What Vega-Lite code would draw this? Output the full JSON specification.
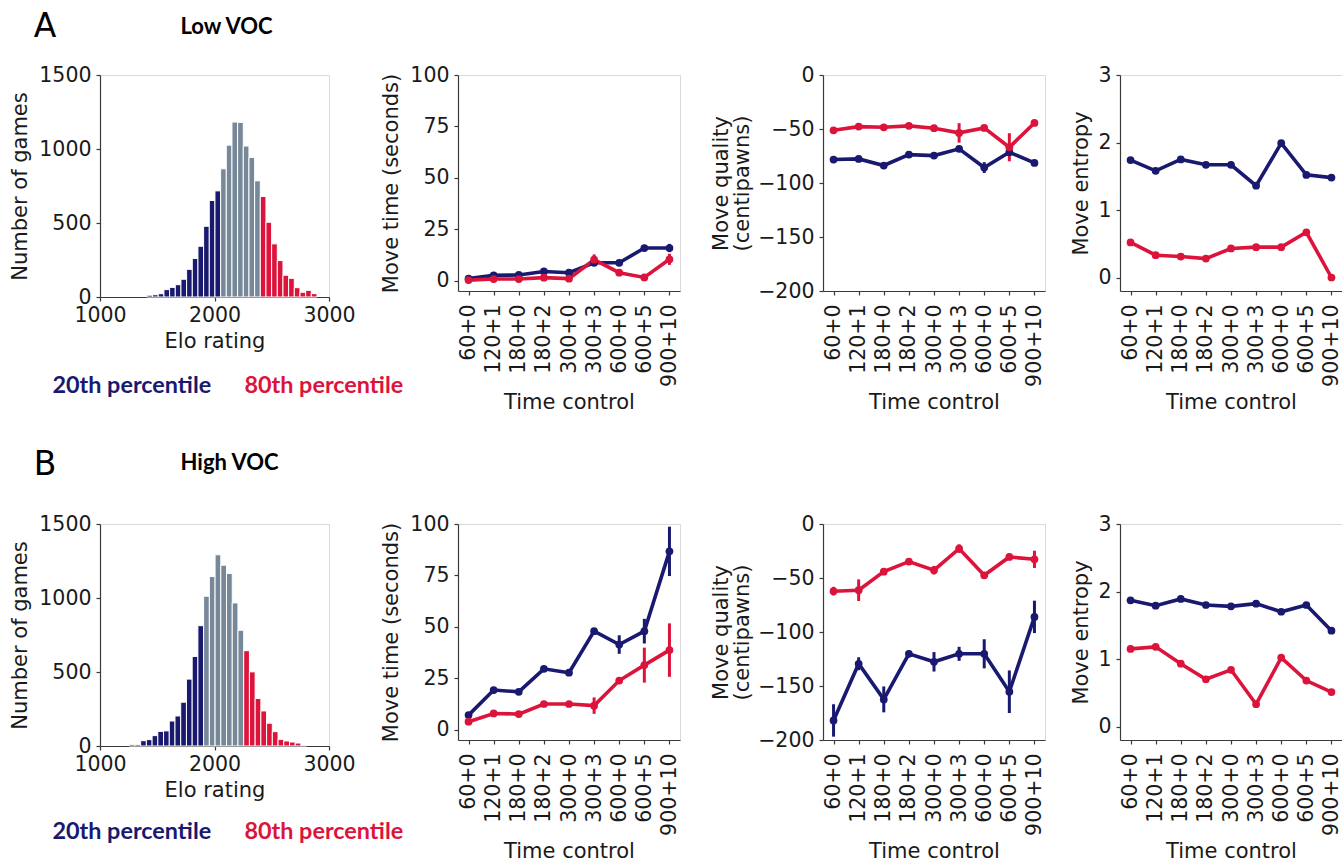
{
  "$schema": "https://vega.github.io/schema/vega-lite/v6.json",
  "background": "white",
  "padding": {"left": 9, "top": 10, "right": 0, "bottom": 0},
  "config": {
    "font": "DejaVu Sans",
    "view": {"stroke": "#d9d9d9", "strokeWidth": 1},
    "axis": {"grid": false, "labelFlush": false, "domainColor": "#3a3a3a", "domainWidth": 1.2, "tickColor": "#3a3a3a", "tickWidth": 1.2, "tickSize": 4, "labelFont": "DejaVu Sans", "labelFontSize": 20.5, "labelColor": "#1a1a1a", "titleFont": "DejaVu Sans", "titleFontSize": 21, "titleFontWeight": "normal", "titleColor": "#1a1a1a", "labelPadding": 5, "titlePadding": 8, "minExtent": 0, "titleLineHeight": 21},
    "axisX": {"labelPadding": 4, "titlePadding": 5},
    "legend": {"labelLimit": 400}
  },
  "datasets": {
    "histA": [
      {"elo_lo": 1410, "elo_hi": 1459.5, "count": 12, "band": "20th percentile"},
      {"elo_lo": 1459.5, "elo_hi": 1509, "count": 15, "band": "20th percentile"},
      {"elo_lo": 1509, "elo_hi": 1558.5, "count": 22, "band": "20th percentile"},
      {"elo_lo": 1558.5, "elo_hi": 1608, "count": 50, "band": "20th percentile"},
      {"elo_lo": 1608, "elo_hi": 1657.5, "count": 65, "band": "20th percentile"},
      {"elo_lo": 1657.5, "elo_hi": 1707, "count": 83, "band": "20th percentile"},
      {"elo_lo": 1707, "elo_hi": 1756.5, "count": 120, "band": "20th percentile"},
      {"elo_lo": 1756.5, "elo_hi": 1806, "count": 187, "band": "20th percentile"},
      {"elo_lo": 1806, "elo_hi": 1855.5, "count": 260, "band": "20th percentile"},
      {"elo_lo": 1855.5, "elo_hi": 1905, "count": 343, "band": "20th percentile"},
      {"elo_lo": 1905, "elo_hi": 1954.5, "count": 478, "band": "20th percentile"},
      {"elo_lo": 1954.5, "elo_hi": 2004, "count": 652, "band": "20th percentile"},
      {"elo_lo": 2004, "elo_hi": 2053.5, "count": 717, "band": "20th percentile"},
      {"elo_lo": 2053.5, "elo_hi": 2103, "count": 866, "band": "middle"},
      {"elo_lo": 2103, "elo_hi": 2152.5, "count": 1026, "band": "middle"},
      {"elo_lo": 2152.5, "elo_hi": 2202, "count": 1182, "band": "middle"},
      {"elo_lo": 2202, "elo_hi": 2251.5, "count": 1180, "band": "middle"},
      {"elo_lo": 2251.5, "elo_hi": 2301, "count": 1020, "band": "middle"},
      {"elo_lo": 2301, "elo_hi": 2350.5, "count": 943, "band": "middle"},
      {"elo_lo": 2350.5, "elo_hi": 2400, "count": 785, "band": "middle"},
      {"elo_lo": 2400, "elo_hi": 2449.5, "count": 679, "band": "80th percentile"},
      {"elo_lo": 2449.5, "elo_hi": 2499, "count": 505, "band": "80th percentile"},
      {"elo_lo": 2499, "elo_hi": 2548.5, "count": 359, "band": "80th percentile"},
      {"elo_lo": 2548.5, "elo_hi": 2598, "count": 246, "band": "80th percentile"},
      {"elo_lo": 2598, "elo_hi": 2647.5, "count": 147, "band": "80th percentile"},
      {"elo_lo": 2647.5, "elo_hi": 2697, "count": 126, "band": "80th percentile"},
      {"elo_lo": 2697, "elo_hi": 2746.5, "count": 63, "band": "80th percentile"},
      {"elo_lo": 2746.5, "elo_hi": 2796, "count": 32, "band": "80th percentile"},
      {"elo_lo": 2796, "elo_hi": 2845.5, "count": 45, "band": "80th percentile"},
      {"elo_lo": 2845.5, "elo_hi": 2895, "count": 23, "band": "80th percentile"}
    ],
    "histB": [
      {"elo_lo": 1255, "elo_hi": 1305, "count": 9, "band": "20th percentile"},
      {"elo_lo": 1305, "elo_hi": 1355, "count": 9, "band": "20th percentile"},
      {"elo_lo": 1355, "elo_hi": 1405, "count": 36, "band": "20th percentile"},
      {"elo_lo": 1405, "elo_hi": 1455, "count": 43, "band": "20th percentile"},
      {"elo_lo": 1455, "elo_hi": 1505, "count": 70, "band": "20th percentile"},
      {"elo_lo": 1505, "elo_hi": 1555, "count": 99, "band": "20th percentile"},
      {"elo_lo": 1555, "elo_hi": 1605, "count": 102, "band": "20th percentile"},
      {"elo_lo": 1605, "elo_hi": 1655, "count": 169, "band": "20th percentile"},
      {"elo_lo": 1655, "elo_hi": 1705, "count": 203, "band": "20th percentile"},
      {"elo_lo": 1705, "elo_hi": 1755, "count": 296, "band": "20th percentile"},
      {"elo_lo": 1755, "elo_hi": 1805, "count": 452, "band": "20th percentile"},
      {"elo_lo": 1805, "elo_hi": 1855, "count": 605, "band": "20th percentile"},
      {"elo_lo": 1855, "elo_hi": 1905, "count": 813, "band": "20th percentile"},
      {"elo_lo": 1905, "elo_hi": 1955, "count": 1012, "band": "middle"},
      {"elo_lo": 1955, "elo_hi": 2005, "count": 1145, "band": "middle"},
      {"elo_lo": 2005, "elo_hi": 2055, "count": 1292, "band": "middle"},
      {"elo_lo": 2055, "elo_hi": 2105, "count": 1222, "band": "middle"},
      {"elo_lo": 2105, "elo_hi": 2155, "count": 1166, "band": "middle"},
      {"elo_lo": 2155, "elo_hi": 2205, "count": 967, "band": "middle"},
      {"elo_lo": 2205, "elo_hi": 2255, "count": 782, "band": "middle"},
      {"elo_lo": 2255, "elo_hi": 2305, "count": 644, "band": "80th percentile"},
      {"elo_lo": 2305, "elo_hi": 2355, "count": 501, "band": "80th percentile"},
      {"elo_lo": 2355, "elo_hi": 2405, "count": 321, "band": "80th percentile"},
      {"elo_lo": 2405, "elo_hi": 2455, "count": 237, "band": "80th percentile"},
      {"elo_lo": 2455, "elo_hi": 2505, "count": 154, "band": "80th percentile"},
      {"elo_lo": 2505, "elo_hi": 2555, "count": 97, "band": "80th percentile"},
      {"elo_lo": 2555, "elo_hi": 2605, "count": 45, "band": "80th percentile"},
      {"elo_lo": 2605, "elo_hi": 2655, "count": 34, "band": "80th percentile"},
      {"elo_lo": 2655, "elo_hi": 2705, "count": 27, "band": "80th percentile"},
      {"elo_lo": 2705, "elo_hi": 2755, "count": 20, "band": "80th percentile"},
      {"elo_lo": 2755, "elo_hi": 2805, "count": 5, "band": "80th percentile"}
    ],
    "lines": [
      {"voc": "Low", "metric": "time", "group": "20th percentile", "tc": "60+0", "mean": 1.0, "lo": 0.5, "hi": 1.5},
      {"voc": "Low", "metric": "time", "group": "20th percentile", "tc": "120+1", "mean": 2.6, "lo": 2.1, "hi": 3.1},
      {"voc": "Low", "metric": "time", "group": "20th percentile", "tc": "180+0", "mean": 2.8, "lo": 2.3, "hi": 3.3},
      {"voc": "Low", "metric": "time", "group": "20th percentile", "tc": "180+2", "mean": 4.5, "lo": 3.9, "hi": 5.1},
      {"voc": "Low", "metric": "time", "group": "20th percentile", "tc": "300+0", "mean": 3.9, "lo": 3.3, "hi": 4.5},
      {"voc": "Low", "metric": "time", "group": "20th percentile", "tc": "300+3", "mean": 8.7, "lo": 7.7, "hi": 9.7},
      {"voc": "Low", "metric": "time", "group": "20th percentile", "tc": "600+0", "mean": 8.7, "lo": 7.7, "hi": 9.7},
      {"voc": "Low", "metric": "time", "group": "20th percentile", "tc": "600+5", "mean": 15.9, "lo": 14.4, "hi": 17.4},
      {"voc": "Low", "metric": "time", "group": "20th percentile", "tc": "900+10", "mean": 15.9, "lo": 13.9, "hi": 17.9},
      {"voc": "Low", "metric": "time", "group": "80th percentile", "tc": "60+0", "mean": 0.3, "lo": 0.1, "hi": 0.5},
      {"voc": "Low", "metric": "time", "group": "80th percentile", "tc": "120+1", "mean": 0.8, "lo": 0.5, "hi": 1.1},
      {"voc": "Low", "metric": "time", "group": "80th percentile", "tc": "180+0", "mean": 0.8, "lo": 0.5, "hi": 1.1},
      {"voc": "Low", "metric": "time", "group": "80th percentile", "tc": "180+2", "mean": 1.5, "lo": 1.1, "hi": 1.9},
      {"voc": "Low", "metric": "time", "group": "80th percentile", "tc": "300+0", "mean": 1.0, "lo": 0.6, "hi": 1.4},
      {"voc": "Low", "metric": "time", "group": "80th percentile", "tc": "300+3", "mean": 10.2, "lo": 7.6, "hi": 12.8},
      {"voc": "Low", "metric": "time", "group": "80th percentile", "tc": "600+0", "mean": 3.9, "lo": 3.1, "hi": 4.7},
      {"voc": "Low", "metric": "time", "group": "80th percentile", "tc": "600+5", "mean": 1.6, "lo": 0.8, "hi": 2.4},
      {"voc": "Low", "metric": "time", "group": "80th percentile", "tc": "900+10", "mean": 10.4, "lo": 7.7, "hi": 13.1},
      {"voc": "Low", "metric": "quality", "group": "20th percentile", "tc": "60+0", "mean": -78.3, "lo": -80.3, "hi": -76.3},
      {"voc": "Low", "metric": "quality", "group": "20th percentile", "tc": "120+1", "mean": -77.7, "lo": -79.7, "hi": -75.7},
      {"voc": "Low", "metric": "quality", "group": "20th percentile", "tc": "180+0", "mean": -83.8, "lo": -85.8, "hi": -81.8},
      {"voc": "Low", "metric": "quality", "group": "20th percentile", "tc": "180+2", "mean": -73.7, "lo": -75.7, "hi": -71.7},
      {"voc": "Low", "metric": "quality", "group": "20th percentile", "tc": "300+0", "mean": -74.6, "lo": -76.6, "hi": -72.6},
      {"voc": "Low", "metric": "quality", "group": "20th percentile", "tc": "300+3", "mean": -68.4, "lo": -70.4, "hi": -66.4},
      {"voc": "Low", "metric": "quality", "group": "20th percentile", "tc": "600+0", "mean": -85.7, "lo": -90.7, "hi": -80.7},
      {"voc": "Low", "metric": "quality", "group": "20th percentile", "tc": "600+5", "mean": -71.5, "lo": -74.5, "hi": -68.5},
      {"voc": "Low", "metric": "quality", "group": "20th percentile", "tc": "900+10", "mean": -81.4, "lo": -83.9, "hi": -78.9},
      {"voc": "Low", "metric": "quality", "group": "80th percentile", "tc": "60+0", "mean": -51.2, "lo": -52.7, "hi": -49.7},
      {"voc": "Low", "metric": "quality", "group": "80th percentile", "tc": "120+1", "mean": -47.8, "lo": -49.3, "hi": -46.3},
      {"voc": "Low", "metric": "quality", "group": "80th percentile", "tc": "180+0", "mean": -48.4, "lo": -49.9, "hi": -46.9},
      {"voc": "Low", "metric": "quality", "group": "80th percentile", "tc": "180+2", "mean": -47.1, "lo": -48.6, "hi": -45.6},
      {"voc": "Low", "metric": "quality", "group": "80th percentile", "tc": "300+0", "mean": -49.3, "lo": -50.8, "hi": -47.8},
      {"voc": "Low", "metric": "quality", "group": "80th percentile", "tc": "300+3", "mean": -53.6, "lo": -62.6, "hi": -44.6},
      {"voc": "Low", "metric": "quality", "group": "80th percentile", "tc": "600+0", "mean": -49.0, "lo": -51.0, "hi": -47.0},
      {"voc": "Low", "metric": "quality", "group": "80th percentile", "tc": "600+5", "mean": -66.9, "lo": -79.9, "hi": -53.9},
      {"voc": "Low", "metric": "quality", "group": "80th percentile", "tc": "900+10", "mean": -44.4, "lo": -46.4, "hi": -42.4},
      {"voc": "Low", "metric": "entropy", "group": "20th percentile", "tc": "60+0", "mean": 1.74, "lo": 1.72, "hi": 1.76},
      {"voc": "Low", "metric": "entropy", "group": "20th percentile", "tc": "120+1", "mean": 1.58, "lo": 1.56, "hi": 1.60},
      {"voc": "Low", "metric": "entropy", "group": "20th percentile", "tc": "180+0", "mean": 1.75, "lo": 1.73, "hi": 1.77},
      {"voc": "Low", "metric": "entropy", "group": "20th percentile", "tc": "180+2", "mean": 1.67, "lo": 1.65, "hi": 1.69},
      {"voc": "Low", "metric": "entropy", "group": "20th percentile", "tc": "300+0", "mean": 1.67, "lo": 1.65, "hi": 1.69},
      {"voc": "Low", "metric": "entropy", "group": "20th percentile", "tc": "300+3", "mean": 1.36, "lo": 1.34, "hi": 1.38},
      {"voc": "Low", "metric": "entropy", "group": "20th percentile", "tc": "600+0", "mean": 1.99, "lo": 1.97, "hi": 2.01},
      {"voc": "Low", "metric": "entropy", "group": "20th percentile", "tc": "600+5", "mean": 1.52, "lo": 1.50, "hi": 1.54},
      {"voc": "Low", "metric": "entropy", "group": "20th percentile", "tc": "900+10", "mean": 1.48, "lo": 1.46, "hi": 1.50},
      {"voc": "Low", "metric": "entropy", "group": "80th percentile", "tc": "60+0", "mean": 0.52, "lo": 0.50, "hi": 0.54},
      {"voc": "Low", "metric": "entropy", "group": "80th percentile", "tc": "120+1", "mean": 0.33, "lo": 0.31, "hi": 0.35},
      {"voc": "Low", "metric": "entropy", "group": "80th percentile", "tc": "180+0", "mean": 0.31, "lo": 0.29, "hi": 0.33},
      {"voc": "Low", "metric": "entropy", "group": "80th percentile", "tc": "180+2", "mean": 0.28, "lo": 0.26, "hi": 0.30},
      {"voc": "Low", "metric": "entropy", "group": "80th percentile", "tc": "300+0", "mean": 0.43, "lo": 0.41, "hi": 0.45},
      {"voc": "Low", "metric": "entropy", "group": "80th percentile", "tc": "300+3", "mean": 0.45, "lo": 0.43, "hi": 0.47},
      {"voc": "Low", "metric": "entropy", "group": "80th percentile", "tc": "600+0", "mean": 0.45, "lo": 0.43, "hi": 0.47},
      {"voc": "Low", "metric": "entropy", "group": "80th percentile", "tc": "600+5", "mean": 0.67, "lo": 0.65, "hi": 0.69},
      {"voc": "Low", "metric": "entropy", "group": "80th percentile", "tc": "900+10", "mean": 0.0, "lo": -0.02, "hi": 0.02},
      {"voc": "High", "metric": "time", "group": "20th percentile", "tc": "60+0", "mean": 7.1, "lo": 6.3, "hi": 7.9},
      {"voc": "High", "metric": "time", "group": "20th percentile", "tc": "120+1", "mean": 19.3, "lo": 18.3, "hi": 20.3},
      {"voc": "High", "metric": "time", "group": "20th percentile", "tc": "180+0", "mean": 18.4, "lo": 17.4, "hi": 19.4},
      {"voc": "High", "metric": "time", "group": "20th percentile", "tc": "180+2", "mean": 29.6, "lo": 28.4, "hi": 30.8},
      {"voc": "High", "metric": "time", "group": "20th percentile", "tc": "300+0", "mean": 27.7, "lo": 26.5, "hi": 28.9},
      {"voc": "High", "metric": "time", "group": "20th percentile", "tc": "300+3", "mean": 47.9, "lo": 46.4, "hi": 49.4},
      {"voc": "High", "metric": "time", "group": "20th percentile", "tc": "600+0", "mean": 41.4, "lo": 36.9, "hi": 45.9},
      {"voc": "High", "metric": "time", "group": "20th percentile", "tc": "600+5", "mean": 47.9, "lo": 41.9, "hi": 53.9},
      {"voc": "High", "metric": "time", "group": "20th percentile", "tc": "900+10", "mean": 86.7, "lo": 74.7, "hi": 98.7},
      {"voc": "High", "metric": "time", "group": "80th percentile", "tc": "60+0", "mean": 3.9, "lo": 3.4, "hi": 4.4},
      {"voc": "High", "metric": "time", "group": "80th percentile", "tc": "120+1", "mean": 7.9, "lo": 7.1, "hi": 8.7},
      {"voc": "High", "metric": "time", "group": "80th percentile", "tc": "180+0", "mean": 7.6, "lo": 6.8, "hi": 8.4},
      {"voc": "High", "metric": "time", "group": "80th percentile", "tc": "180+2", "mean": 12.5, "lo": 11.5, "hi": 13.5},
      {"voc": "High", "metric": "time", "group": "80th percentile", "tc": "300+0", "mean": 12.5, "lo": 11.5, "hi": 13.5},
      {"voc": "High", "metric": "time", "group": "80th percentile", "tc": "300+3", "mean": 11.7, "lo": 7.7, "hi": 15.7},
      {"voc": "High", "metric": "time", "group": "80th percentile", "tc": "600+0", "mean": 23.9, "lo": 22.4, "hi": 25.4},
      {"voc": "High", "metric": "time", "group": "80th percentile", "tc": "600+5", "mean": 31.4, "lo": 22.9, "hi": 39.9},
      {"voc": "High", "metric": "time", "group": "80th percentile", "tc": "900+10", "mean": 38.7, "lo": 25.7, "hi": 51.7},
      {"voc": "High", "metric": "quality", "group": "20th percentile", "tc": "60+0", "mean": -181.9, "lo": -196.9, "hi": -166.9},
      {"voc": "High", "metric": "quality", "group": "20th percentile", "tc": "120+1", "mean": -129.4, "lo": -135.4, "hi": -123.4},
      {"voc": "High", "metric": "quality", "group": "20th percentile", "tc": "180+0", "mean": -162.4, "lo": -174.4, "hi": -150.4},
      {"voc": "High", "metric": "quality", "group": "20th percentile", "tc": "180+2", "mean": -120.2, "lo": -123.2, "hi": -117.2},
      {"voc": "High", "metric": "quality", "group": "20th percentile", "tc": "300+0", "mean": -127.6, "lo": -136.6, "hi": -118.6},
      {"voc": "High", "metric": "quality", "group": "20th percentile", "tc": "300+3", "mean": -120.2, "lo": -126.7, "hi": -113.7},
      {"voc": "High", "metric": "quality", "group": "20th percentile", "tc": "600+0", "mean": -120.2, "lo": -133.7, "hi": -106.7},
      {"voc": "High", "metric": "quality", "group": "20th percentile", "tc": "600+5", "mean": -155.3, "lo": -175.0, "hi": -135.6},
      {"voc": "High", "metric": "quality", "group": "20th percentile", "tc": "900+10", "mean": -86.0, "lo": -101.0, "hi": -71.0},
      {"voc": "High", "metric": "quality", "group": "80th percentile", "tc": "60+0", "mean": -62.2, "lo": -66.2, "hi": -58.2},
      {"voc": "High", "metric": "quality", "group": "80th percentile", "tc": "120+1", "mean": -61.3, "lo": -71.3, "hi": -51.3},
      {"voc": "High", "metric": "quality", "group": "80th percentile", "tc": "180+0", "mean": -44.1, "lo": -46.1, "hi": -42.1},
      {"voc": "High", "metric": "quality", "group": "80th percentile", "tc": "180+2", "mean": -34.8, "lo": -36.8, "hi": -32.8},
      {"voc": "High", "metric": "quality", "group": "80th percentile", "tc": "300+0", "mean": -42.8, "lo": -46.8, "hi": -38.8},
      {"voc": "High", "metric": "quality", "group": "80th percentile", "tc": "300+3", "mean": -22.8, "lo": -26.8, "hi": -18.8},
      {"voc": "High", "metric": "quality", "group": "80th percentile", "tc": "600+0", "mean": -47.5, "lo": -49.5, "hi": -45.5},
      {"voc": "High", "metric": "quality", "group": "80th percentile", "tc": "600+5", "mean": -30.5, "lo": -33.5, "hi": -27.5},
      {"voc": "High", "metric": "quality", "group": "80th percentile", "tc": "900+10", "mean": -32.7, "lo": -40.7, "hi": -24.7},
      {"voc": "High", "metric": "entropy", "group": "20th percentile", "tc": "60+0", "mean": 1.87, "lo": 1.85, "hi": 1.89},
      {"voc": "High", "metric": "entropy", "group": "20th percentile", "tc": "120+1", "mean": 1.79, "lo": 1.77, "hi": 1.81},
      {"voc": "High", "metric": "entropy", "group": "20th percentile", "tc": "180+0", "mean": 1.89, "lo": 1.87, "hi": 1.91},
      {"voc": "High", "metric": "entropy", "group": "20th percentile", "tc": "180+2", "mean": 1.80, "lo": 1.78, "hi": 1.82},
      {"voc": "High", "metric": "entropy", "group": "20th percentile", "tc": "300+0", "mean": 1.78, "lo": 1.76, "hi": 1.80},
      {"voc": "High", "metric": "entropy", "group": "20th percentile", "tc": "300+3", "mean": 1.82, "lo": 1.80, "hi": 1.84},
      {"voc": "High", "metric": "entropy", "group": "20th percentile", "tc": "600+0", "mean": 1.70, "lo": 1.68, "hi": 1.72},
      {"voc": "High", "metric": "entropy", "group": "20th percentile", "tc": "600+5", "mean": 1.80, "lo": 1.78, "hi": 1.82},
      {"voc": "High", "metric": "entropy", "group": "20th percentile", "tc": "900+10", "mean": 1.42, "lo": 1.40, "hi": 1.44},
      {"voc": "High", "metric": "entropy", "group": "80th percentile", "tc": "60+0", "mean": 1.15, "lo": 1.13, "hi": 1.17},
      {"voc": "High", "metric": "entropy", "group": "80th percentile", "tc": "120+1", "mean": 1.18, "lo": 1.16, "hi": 1.20},
      {"voc": "High", "metric": "entropy", "group": "80th percentile", "tc": "180+0", "mean": 0.93, "lo": 0.91, "hi": 0.95},
      {"voc": "High", "metric": "entropy", "group": "80th percentile", "tc": "180+2", "mean": 0.70, "lo": 0.68, "hi": 0.72},
      {"voc": "High", "metric": "entropy", "group": "80th percentile", "tc": "300+0", "mean": 0.84, "lo": 0.82, "hi": 0.86},
      {"voc": "High", "metric": "entropy", "group": "80th percentile", "tc": "300+3", "mean": 0.33, "lo": 0.31, "hi": 0.35},
      {"voc": "High", "metric": "entropy", "group": "80th percentile", "tc": "600+0", "mean": 1.02, "lo": 1.00, "hi": 1.04},
      {"voc": "High", "metric": "entropy", "group": "80th percentile", "tc": "600+5", "mean": 0.68, "lo": 0.66, "hi": 0.70},
      {"voc": "High", "metric": "entropy", "group": "80th percentile", "tc": "900+10", "mean": 0.51, "lo": 0.49, "hi": 0.53}
    ]
  },
  "bounds": "flush",
  "spacing": 449,
  "resolve": {"legend": {"color": "independent"}},
  "vconcat": [
    {
      "title": {"text": "A", "anchor": "start", "frame": "bounds", "fontSize": 33, "font": "DejaVu Sans", "fontWeight": "normal", "color": "black", "dx": 24.5, "offset": -28},
      "bounds": "flush",
      "spacing": 129,
      "resolve": {"legend": {"color": "independent"}},
      "hconcat": [
        {
          "width": 229, "height": 222,
          "title": {"text": "Low VOC", "anchor": "start", "frame": "group", "dx": 80.5, "font": "Lato", "fontWeight": "bold", "fontSize": 22, "color": "black", "offset": 26},
          "data": {"name": "histA"},
          "mark": {"type": "bar", "stroke": "white", "strokeWidth": 1},
          "encoding": {
            "x": {"field": "elo_lo", "type": "quantitative", "scale": {"domain": [1000, 3000], "nice": false}, "axis": {"title": "Elo rating", "values": [1000, 2000, 3000], "format": "d"}},
            "x2": {"field": "elo_hi"},
            "y": {"field": "count", "type": "quantitative", "scale": {"domain": [0, 1500], "nice": false}, "axis": {"title": "Number of games", "values": [0, 500, 1000, 1500], "format": "d", "titlePadding": 8}},
            "y2": {"datum": 0},
            "color": {"field": "band", "type": "nominal", "scale": {"domain": ["20th percentile", "middle", "80th percentile"], "range": ["#191970", "#778899", "#dc143c"]},
              "legend": {"values": ["20th percentile", "80th percentile"], "orient": "none", "legendX": -71, "legendY": 299, "direction": "horizontal", "title": null, "symbolSize": 0, "symbolStrokeWidth": 0, "symbolOpacity": 0, "labelFont": "Lato", "labelFontSize": 23.4, "labelFontWeight": "bold", "labelOffset": 0, "columnPadding": 9, "labelLimit": 400,
                "labelColor": {"expr": "datum.value === '20th percentile' ? '#191970' : '#dc143c'"}}}
          }
        },
        {
          "bounds": "flush",
          "spacing": 143,
          "resolve": {"legend": {"color": "independent"}},
          "hconcat": [
            {
              "width": 222, "height": 216,
              "data": {"name": "lines"},
              "transform": [{"filter": "datum.voc === 'Low' && datum.metric === 'time'"}],
              "encoding": {
                "x": {"field": "tc", "type": "ordinal", "sort": ["60+0", "120+1", "180+0", "180+2", "300+0", "300+3", "600+0", "600+5", "900+10"], "scale": {"type": "point", "padding": 0.42}, "axis": {"title": "Time control", "labelAngle": -90, "labelPadding": 9}},
                "color": {"field": "group", "type": "nominal", "scale": {"domain": ["20th percentile", "middle", "80th percentile"], "range": ["#191970", "#778899", "#dc143c"]}, "legend": null}
              },
              "layer": [
                {"mark": {"type": "rule", "strokeWidth": 3}, "encoding": {"y": {"field": "lo", "type": "quantitative", "scale": {"domain": [-5, 100], "nice": false, "zero": false}, "axis": {"title": "Move time (seconds)", "values": [0, 25, 50, 75, 100]}}, "y2": {"field": "hi"}}},
                {"mark": {"type": "line", "strokeWidth": 3.6}, "encoding": {"y": {"field": "mean", "type": "quantitative", "scale": {"domain": [-5, 100], "nice": false, "zero": false}, "axis": {"title": "Move time (seconds)", "values": [0, 25, 50, 75, 100]}}}},
                {"mark": {"type": "point", "filled": true, "size": 60, "opacity": 1}, "encoding": {"y": {"field": "mean", "type": "quantitative", "scale": {"domain": [-5, 100], "nice": false, "zero": false}, "axis": {"title": "Move time (seconds)", "values": [0, 25, 50, 75, 100]}}}}
              ]
            },
            {
              "bounds": "flush",
              "spacing": 75,
              "resolve": {"legend": {"color": "independent"}},
              "hconcat": [
                {
                  "width": 222, "height": 216,
                  "data": {"name": "lines"},
                  "transform": [{"filter": "datum.voc === 'Low' && datum.metric === 'quality'"}],
                  "encoding": {
                    "x": {"field": "tc", "type": "ordinal", "sort": ["60+0", "120+1", "180+0", "180+2", "300+0", "300+3", "600+0", "600+5", "900+10"], "scale": {"type": "point", "padding": 0.42}, "axis": {"title": "Time control", "labelAngle": -90, "labelPadding": 9}},
                    "color": {"field": "group", "type": "nominal", "scale": {"domain": ["20th percentile", "middle", "80th percentile"], "range": ["#191970", "#778899", "#dc143c"]}, "legend": null}
                  },
                  "layer": [
                    {"mark": {"type": "rule", "strokeWidth": 3}, "encoding": {"y": {"field": "lo", "type": "quantitative", "scale": {"domain": [-200, 0], "nice": false, "zero": false}, "axis": {"title": ["Move quality", "(centipawns)"], "values": [-200, -150, -100, -50, 0], "titlePadding": 5}}, "y2": {"field": "hi"}}},
                    {"mark": {"type": "line", "strokeWidth": 3.6}, "encoding": {"y": {"field": "mean", "type": "quantitative", "scale": {"domain": [-200, 0], "nice": false, "zero": false}, "axis": {"title": ["Move quality", "(centipawns)"], "values": [-200, -150, -100, -50, 0], "titlePadding": 5}}}},
                    {"mark": {"type": "point", "filled": true, "size": 60, "opacity": 1}, "encoding": {"y": {"field": "mean", "type": "quantitative", "scale": {"domain": [-200, 0], "nice": false, "zero": false}, "axis": {"title": ["Move quality", "(centipawns)"], "values": [-200, -150, -100, -50, 0], "titlePadding": 5}}}}
                  ]
                },
                {
                  "width": 222, "height": 216,
                  "data": {"name": "lines"},
                  "transform": [{"filter": "datum.voc === 'Low' && datum.metric === 'entropy'"}],
                  "encoding": {
                    "x": {"field": "tc", "type": "ordinal", "sort": ["60+0", "120+1", "180+0", "180+2", "300+0", "300+3", "600+0", "600+5", "900+10"], "scale": {"type": "point", "padding": 0.42}, "axis": {"title": "Time control", "labelAngle": -90, "labelPadding": 9}},
                    "color": {"field": "group", "type": "nominal", "scale": {"domain": ["20th percentile", "middle", "80th percentile"], "range": ["#191970", "#778899", "#dc143c"]}, "legend": null}
                  },
                  "layer": [
                    {"mark": {"type": "rule", "strokeWidth": 3}, "encoding": {"y": {"field": "lo", "type": "quantitative", "scale": {"domain": [-0.2, 3], "nice": false, "zero": false}, "axis": {"title": "Move entropy", "values": [0, 1, 2, 3], "titlePadding": 6}}, "y2": {"field": "hi"}}},
                    {"mark": {"type": "line", "strokeWidth": 3.6}, "encoding": {"y": {"field": "mean", "type": "quantitative", "scale": {"domain": [-0.2, 3], "nice": false, "zero": false}, "axis": {"title": "Move entropy", "values": [0, 1, 2, 3], "titlePadding": 6}}}},
                    {"mark": {"type": "point", "filled": true, "size": 60, "opacity": 1}, "encoding": {"y": {"field": "mean", "type": "quantitative", "scale": {"domain": [-0.2, 3], "nice": false, "zero": false}, "axis": {"title": "Move entropy", "values": [0, 1, 2, 3], "titlePadding": 6}}}}
                  ]
                }
              ]
            }
          ]
        }
      ]
    },
    {
      "title": {"text": "B", "anchor": "start", "frame": "bounds", "fontSize": 33, "font": "DejaVu Sans", "fontWeight": "normal", "color": "black", "dx": 24.5, "offset": -30},
      "bounds": "flush",
      "spacing": 129,
      "resolve": {"legend": {"color": "independent"}},
      "hconcat": [
        {
          "width": 229, "height": 222,
          "title": {"text": "High VOC", "anchor": "start", "frame": "group", "dx": 80.5, "font": "Lato", "fontWeight": "bold", "fontSize": 22, "color": "black", "offset": 39},
          "data": {"name": "histB"},
          "mark": {"type": "bar", "stroke": "white", "strokeWidth": 1},
          "encoding": {
            "x": {"field": "elo_lo", "type": "quantitative", "scale": {"domain": [1000, 3000], "nice": false}, "axis": {"title": "Elo rating", "values": [1000, 2000, 3000], "format": "d"}},
            "x2": {"field": "elo_hi"},
            "y": {"field": "count", "type": "quantitative", "scale": {"domain": [0, 1500], "nice": false}, "axis": {"title": "Number of games", "values": [0, 500, 1000, 1500], "format": "d", "titlePadding": 8}},
            "y2": {"datum": 0},
            "color": {"field": "band", "type": "nominal", "scale": {"domain": ["20th percentile", "middle", "80th percentile"], "range": ["#191970", "#778899", "#dc143c"]},
              "legend": {"values": ["20th percentile", "80th percentile"], "orient": "none", "legendX": -71, "legendY": 296, "direction": "horizontal", "title": null, "symbolSize": 0, "symbolStrokeWidth": 0, "symbolOpacity": 0, "labelFont": "Lato", "labelFontSize": 23.4, "labelFontWeight": "bold", "labelOffset": 0, "columnPadding": 9, "labelLimit": 400,
                "labelColor": {"expr": "datum.value === '20th percentile' ? '#191970' : '#dc143c'"}}}
          }
        },
        {
          "bounds": "flush",
          "spacing": 143,
          "resolve": {"legend": {"color": "independent"}},
          "hconcat": [
            {
              "width": 222, "height": 216,
              "data": {"name": "lines"},
              "transform": [{"filter": "datum.voc === 'High' && datum.metric === 'time'"}],
              "encoding": {
                "x": {"field": "tc", "type": "ordinal", "sort": ["60+0", "120+1", "180+0", "180+2", "300+0", "300+3", "600+0", "600+5", "900+10"], "scale": {"type": "point", "padding": 0.42}, "axis": {"title": "Time control", "labelAngle": -90, "labelPadding": 9}},
                "color": {"field": "group", "type": "nominal", "scale": {"domain": ["20th percentile", "middle", "80th percentile"], "range": ["#191970", "#778899", "#dc143c"]}, "legend": null}
              },
              "layer": [
                {"mark": {"type": "rule", "strokeWidth": 3}, "encoding": {"y": {"field": "lo", "type": "quantitative", "scale": {"domain": [-5, 100], "nice": false, "zero": false}, "axis": {"title": "Move time (seconds)", "values": [0, 25, 50, 75, 100]}}, "y2": {"field": "hi"}}},
                {"mark": {"type": "line", "strokeWidth": 3.6}, "encoding": {"y": {"field": "mean", "type": "quantitative", "scale": {"domain": [-5, 100], "nice": false, "zero": false}, "axis": {"title": "Move time (seconds)", "values": [0, 25, 50, 75, 100]}}}},
                {"mark": {"type": "point", "filled": true, "size": 60, "opacity": 1}, "encoding": {"y": {"field": "mean", "type": "quantitative", "scale": {"domain": [-5, 100], "nice": false, "zero": false}, "axis": {"title": "Move time (seconds)", "values": [0, 25, 50, 75, 100]}}}}
              ]
            },
            {
              "bounds": "flush",
              "spacing": 75,
              "resolve": {"legend": {"color": "independent"}},
              "hconcat": [
                {
                  "width": 222, "height": 216,
                  "data": {"name": "lines"},
                  "transform": [{"filter": "datum.voc === 'High' && datum.metric === 'quality'"}],
                  "encoding": {
                    "x": {"field": "tc", "type": "ordinal", "sort": ["60+0", "120+1", "180+0", "180+2", "300+0", "300+3", "600+0", "600+5", "900+10"], "scale": {"type": "point", "padding": 0.42}, "axis": {"title": "Time control", "labelAngle": -90, "labelPadding": 9}},
                    "color": {"field": "group", "type": "nominal", "scale": {"domain": ["20th percentile", "middle", "80th percentile"], "range": ["#191970", "#778899", "#dc143c"]}, "legend": null}
                  },
                  "layer": [
                    {"mark": {"type": "rule", "strokeWidth": 3}, "encoding": {"y": {"field": "lo", "type": "quantitative", "scale": {"domain": [-200, 0], "nice": false, "zero": false}, "axis": {"title": ["Move quality", "(centipawns)"], "values": [-200, -150, -100, -50, 0], "titlePadding": 5}}, "y2": {"field": "hi"}}},
                    {"mark": {"type": "line", "strokeWidth": 3.6}, "encoding": {"y": {"field": "mean", "type": "quantitative", "scale": {"domain": [-200, 0], "nice": false, "zero": false}, "axis": {"title": ["Move quality", "(centipawns)"], "values": [-200, -150, -100, -50, 0], "titlePadding": 5}}}},
                    {"mark": {"type": "point", "filled": true, "size": 60, "opacity": 1}, "encoding": {"y": {"field": "mean", "type": "quantitative", "scale": {"domain": [-200, 0], "nice": false, "zero": false}, "axis": {"title": ["Move quality", "(centipawns)"], "values": [-200, -150, -100, -50, 0], "titlePadding": 5}}}}
                  ]
                },
                {
                  "width": 222, "height": 216,
                  "data": {"name": "lines"},
                  "transform": [{"filter": "datum.voc === 'High' && datum.metric === 'entropy'"}],
                  "encoding": {
                    "x": {"field": "tc", "type": "ordinal", "sort": ["60+0", "120+1", "180+0", "180+2", "300+0", "300+3", "600+0", "600+5", "900+10"], "scale": {"type": "point", "padding": 0.42}, "axis": {"title": "Time control", "labelAngle": -90, "labelPadding": 9}},
                    "color": {"field": "group", "type": "nominal", "scale": {"domain": ["20th percentile", "middle", "80th percentile"], "range": ["#191970", "#778899", "#dc143c"]}, "legend": null}
                  },
                  "layer": [
                    {"mark": {"type": "rule", "strokeWidth": 3}, "encoding": {"y": {"field": "lo", "type": "quantitative", "scale": {"domain": [-0.2, 3], "nice": false, "zero": false}, "axis": {"title": "Move entropy", "values": [0, 1, 2, 3], "titlePadding": 6}}, "y2": {"field": "hi"}}},
                    {"mark": {"type": "line", "strokeWidth": 3.6}, "encoding": {"y": {"field": "mean", "type": "quantitative", "scale": {"domain": [-0.2, 3], "nice": false, "zero": false}, "axis": {"title": "Move entropy", "values": [0, 1, 2, 3], "titlePadding": 6}}}},
                    {"mark": {"type": "point", "filled": true, "size": 60, "opacity": 1}, "encoding": {"y": {"field": "mean", "type": "quantitative", "scale": {"domain": [-0.2, 3], "nice": false, "zero": false}, "axis": {"title": "Move entropy", "values": [0, 1, 2, 3], "titlePadding": 6}}}}
                  ]
                }
              ]
            }
          ]
        }
      ]
    }
  ]
}
